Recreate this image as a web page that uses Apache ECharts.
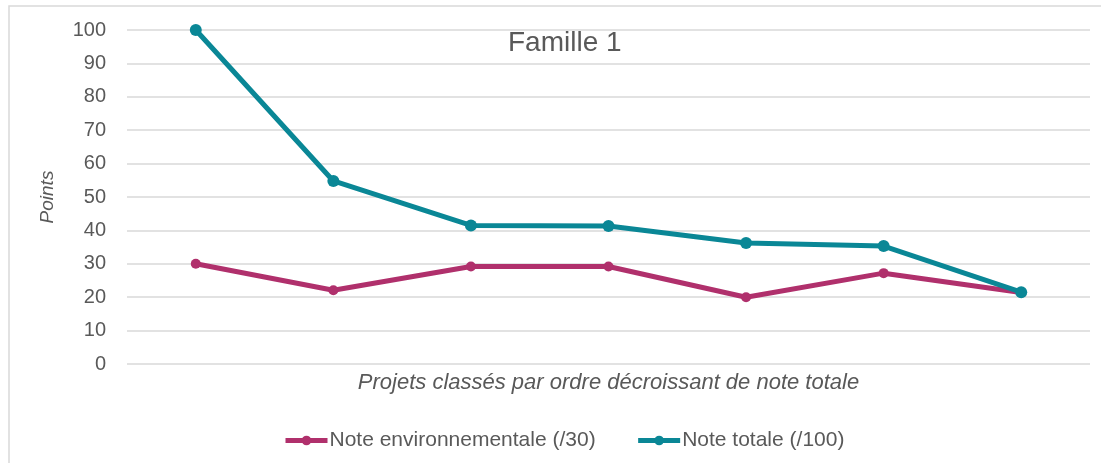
<!DOCTYPE html>
<html>
<head>
<meta charset="utf-8">
<script src="https://cdn.jsdelivr.net/npm/echarts@6/dist/echarts.min.js"></script>
<style>
  html, body { margin: 0; padding: 0; background: #fff; }
  #main { width: 1101px; height: 463px; }
</style>
</head>
<body>
<div id="main"></div>
<script>
// projets (ordre décroissant de note totale)
var projets = ['P1', 'P2', 'P3', 'P4', 'P5', 'P6', 'P7'];
var noteEnv = [30, 22.1, 29.2, 29.2, 20, 27.2, 21.4];
var noteTotale = [100, 54.8, 41.5, 41.3, 36.2, 35.3, 21.5];
var yTicks = { min: 0, max: 100, interval: 10 };

var gris = '#595959';
var myChart = echarts.init(document.getElementById('main'));

var option = {
    backgroundColor: '#fff',
    title: {
        text: 'Famille 1',
        left: 503,
        top: 24,
        textStyle: { color: gris, fontSize: 28, fontWeight: 'normal', fontFamily: 'Liberation Sans' }
    },
    graphic: [{
        type: 'rect',
        shape: { x: 9, y: 6, width: 1100, height: 470 },
        style: { fill: 'none', stroke: '#D9D9D9', lineWidth: 1.5 },
        silent: true
    }],
    legend: {
        left: 278,
        top: 425,
        itemWidth: 42,
        itemHeight: 12,
        itemGap: 40,
        lineStyle: { width: 5 },
        textStyle: { color: gris, fontSize: 21, fontFamily: 'Liberation Sans', padding: [0, 0, 0, -3] },
        data: ['Note environnementale (/30)', 'Note totale (/100)']
    },
    grid: { left: 127, right: 11, top: 30, bottom: 99 },
    xAxis: {
        type: 'category',
        data: projets,
        boundaryGap: true,
        axisLine: { show: false },
        axisTick: { show: false },
        axisLabel: { show: false },
        name: 'Projets classés par ordre décroissant de note totale',
        nameLocation: 'middle',
        nameGap: 8,
        nameTextStyle: { color: gris, fontSize: 22, fontStyle: 'italic', fontFamily: 'Liberation Sans' }
    },
    yAxis: {
        type: 'value',
        min: yTicks.min,
        max: yTicks.max,
        interval: yTicks.interval,
        axisLine: { show: false },
        axisTick: { show: false },
        axisLabel: { color: gris, fontSize: 20, margin: 21, fontFamily: 'Liberation Sans' },
        splitLine: { lineStyle: { color: '#D9D9D9', width: 1.5 } },
        name: 'Points',
        nameLocation: 'middle',
        nameGap: 70,
        nameTextStyle: { color: gris, fontSize: 19, fontStyle: 'italic', fontFamily: 'Liberation Sans' }
    },
    series: [
        {
            name: 'Note environnementale (/30)',
            type: 'line',
            data: noteEnv,
            color: '#B0306C',
            symbol: 'circle',
            symbolSize: 10,
            lineStyle: { width: 5 },
            z: 2
        },
        {
            name: 'Note totale (/100)',
            type: 'line',
            data: noteTotale,
            color: '#0A8796',
            symbol: 'circle',
            symbolSize: 12,
            lineStyle: { width: 5 },
            z: 3
        }
    ]
};
myChart.setOption(option);
</script>
</body>
</html>
